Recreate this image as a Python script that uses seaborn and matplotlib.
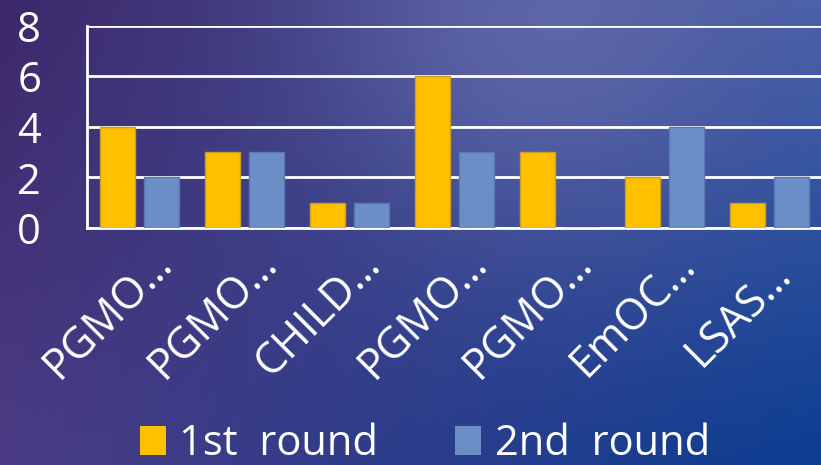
import numpy as np
import pandas as pd
import matplotlib
matplotlib.use("Agg")
import matplotlib.pyplot as plt
from matplotlib.patches import Patch
from matplotlib.transforms import ScaledTranslation
import seaborn as sns

# Chart data
tick_labels = ["PGMO…", "PGMO…", "CHILD…", "PGMO…", "PGMO…", "EmOC…", "LSAS…"]
series_names = ["1st  round", "2nd  round"]
first_round = [4, 3, 1, 6, 3, 2, 1]
second_round = [2, 3, 1, 3, 0, 4, 2]
y_ticks = [0, 2, 4, 6, 8]

colors = ["#FFC000", "#6C8EC6"]
edge_colors = ["#C9A020", "#5A78B0"]

sns.set_theme(style="white")
plt.rcParams["font.family"] = ["Open Sans", "DejaVu Sans"]

W, H = 821, 465
fig = plt.figure(figsize=(W / 100, H / 100), dpi=100)

# Slide-style backdrop: purple on the left fading to deep blue at the lower right
bg_ax = fig.add_axes([0, 0, 1, 1], zorder=-10)
yy, xx = np.mgrid[0:1:H * 1j, 0:1:W * 1j]
tl = np.array([0x3C, 0x28, 0x6A]) / 255
tr = np.array([0x48, 0x60, 0xA8]) / 255
bl = np.array([0x4B, 0x3C, 0x85]) / 255
br = np.array([0x0B, 0x3D, 0x91]) / 255
img = (tl * ((1 - xx) * (1 - yy))[..., None] + tr * (xx * (1 - yy))[..., None]
       + bl * ((1 - xx) * yy)[..., None] + br * (xx * yy)[..., None])
# soft highlight near the top centre
glow = np.exp(-(((xx - 0.66) / 0.26) ** 2 + ((yy - 0.05) / 0.45) ** 2))
img = img + glow[..., None] * (np.array([0x68, 0x70, 0xB0]) / 255 - img) * 0.7
bg_ax.imshow(np.clip(img, 0, 1), aspect="auto", extent=[0, 1, 0, 1], origin="upper")
bg_ax.set_axis_off()

ax = fig.add_axes([87 / W, 1 - 228 / H, 735 / W, 202 / H])
ax.set_facecolor("none")

n = len(tick_labels)
df = pd.DataFrame({
    "cat": list(range(n)) * 2,
    "value": first_round + second_round,
    "series": [series_names[0]] * n + [series_names[1]] * n,
})
sns.barplot(data=df, x="cat", y="value", hue="series", hue_order=series_names,
            palette=colors, width=0.838, gap=0.205, ax=ax, legend=False,
            linewidth=1, saturation=1)
for container, ec in zip(ax.containers, edge_colors):
    for bar in container:
        bar.set_edgecolor(ec)
        bar.set_zorder(3)

ax.set_xlim(-0.5, n - 0.5)
ax.set_ylim(0, 8)
ax.set_yticks(y_ticks)
ax.set_yticklabels([str(v) for v in y_ticks], fontsize=30, color="white")
ax.tick_params(axis="y", length=0, pad=33)
ax.yaxis.grid(True, color="white", linewidth=2)
ax.set_axisbelow(True)
ax.set_xlabel("")
ax.set_ylabel("")
ax.set_xticks(range(n))
ax.set_xticklabels(tick_labels, rotation=45, ha="center", va="center",
                   rotation_mode="anchor", fontsize=31, color="white")
ax.tick_params(axis="x", length=0, pad=0)
# centre each slanted label below and slightly left of its category
shift = ScaledTranslation(-0.31, -0.86, fig.dpi_scale_trans)
for lbl in ax.get_xticklabels():
    lbl.set_transform(lbl.get_transform() + shift)
for side in ["top", "right"]:
    ax.spines[side].set_visible(False)
for side in ["left", "bottom"]:
    ax.spines[side].set_color("white")
    ax.spines[side].set_linewidth(2)

handles = [Patch(facecolor=c, edgecolor="none") for c in colors]
fig.legend(handles, series_names, loc="center", bbox_to_anchor=(425 / W, 1 - 444 / H),
           ncol=2, frameon=False, fontsize=30, handlelength=0.62, handleheight=0.7,
           handletextpad=0.32, columnspacing=1.85, labelcolor="white")

fig.savefig("out.png", dpi=100)
